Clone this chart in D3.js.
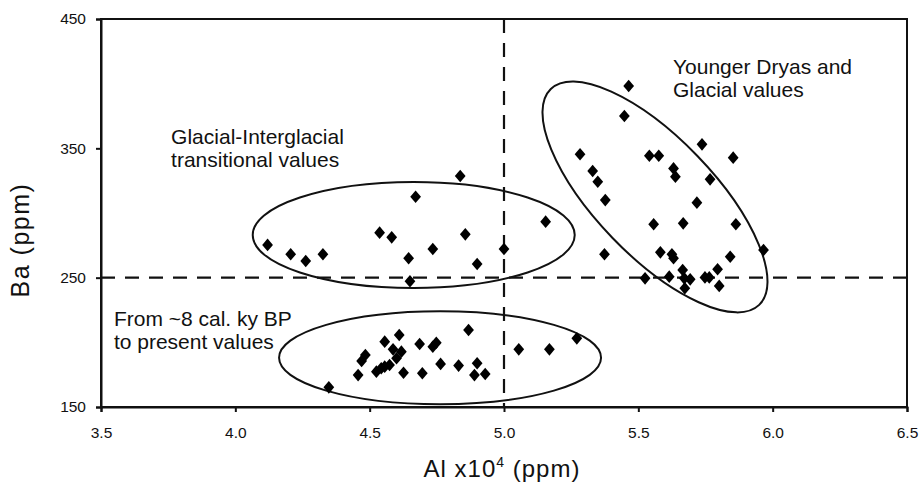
<!DOCTYPE html>
<html>
<head>
  <meta charset="utf-8">
  <script src="https://cdnjs.cloudflare.com/ajax/libs/d3/7.8.5/d3.min.js"></script>
  <title>Ba vs Al</title>
  <style>
    body { margin: 0; background: #fff; }
    svg text { font-family: "Liberation Sans", Arial, sans-serif; fill: #111; }
    .axis path, .axis line { stroke: #111; stroke-width: 2px; }
  </style>
</head>
<body>
<script>
// Al x10^4 (ppm) and Ba (ppm) values of each group
const transitionalAl = [4.12, 4.206, 4.262, 4.326, 4.537, 4.582, 4.671, 4.645, 4.65, 4.735, 4.837, 4.856, 4.90, 5.0, 5.155];
const transitionalBa = [275.3, 268.1, 262.9, 268.1, 284.8, 281.2, 312.6, 265.0, 247.2, 272.2, 328.6, 283.5, 260.6, 272.2, 293.3];

const presentAl = [4.348, 4.457, 4.47, 4.484, 4.525, 4.543, 4.556, 4.574, 4.556, 4.61, 4.587, 4.618, 4.6, 4.626,
                   4.686, 4.696, 4.735, 4.748, 4.764, 4.831, 4.868, 4.9, 4.89, 4.93, 5.055, 5.169, 5.271];
const presentBa = [165.2, 174.7, 185.6, 190.2, 177.3, 180.0, 181.2, 182.5, 200.5, 205.7, 194.6, 192.8, 187.7, 176.5,
                   198.7, 176.1, 196.6, 199.7, 183.3, 182.0, 209.5, 183.8, 174.7, 175.5, 194.6, 194.6, 203.1];

const glacialAl = [5.464, 5.448, 5.283, 5.541, 5.576, 5.737, 5.853, 5.33, 5.349, 5.631, 5.638, 5.767, 5.377, 5.718,
                   5.557, 5.667, 5.863, 5.966, 5.374, 5.582, 5.625, 5.631, 5.842, 5.525, 5.615, 5.665, 5.671,
                   5.693, 5.748, 5.764, 5.795, 5.673, 5.801];
const glacialBa = [398.2, 375.0, 345.4, 344.3, 344.3, 353.1, 342.8, 332.5, 324.2, 334.5, 328.1, 326.0, 310.0, 308.0,
                   291.3, 292.0, 291.3, 271.4, 268.1, 269.6, 268.1, 265.0, 266.2, 249.5, 250.8, 255.9, 249.5,
                   248.7, 250.2, 250.2, 256.5, 241.8, 243.6];

const xTicks = [3.5, 4.0, 4.5, 5.0, 5.5, 6.0, 6.5];
const yTicks = [150, 250, 350, 450];
const alThreshold = 5.0;
const baThreshold = 250;

// group labels: anchor in data units, lines
const labels = [
  { x: 3.761, y: 353.2, lines: ["Glacial-Interglacial", "transitional values"] },
  { x: 3.548, y: 212.7, lines: ["From ~8 cal. ky BP", "to present values"] },
  { x: 5.629, y: 407.3, lines: ["Younger Dryas and", "Glacial values"] }
];

// group ellipses: center in data units
const ellipses = [
  { cx: 4.664, cy: 283.0, rx: 161, ry: 53, angle: 0 },
  { cx: 4.762, cy: 188.1, rx: 161, ry: 46.5, angle: 0 },
  { cx: 5.562, cy: 312.4, rx: 150, ry: 59, angle: 46 }
];

const W = 921, H = 484;
const margin = { top: 19, right: 14, bottom: 77, left: 101 };
const width = W - margin.left - margin.right,
      height = H - margin.top - margin.bottom;

const svg = d3.select("body").append("svg")
    .attr("width", W)
    .attr("height", H);

const g = svg.append("g")
    .attr("transform", "translate(" + margin.left + "," + margin.top + ")");

const x = d3.scaleLinear().domain([3.5, 6.5]).range([0, width]);
const y = d3.scaleLinear().domain([150, 450]).range([height, 0]);

// frame
g.append("rect")
  .attr("width", width)
  .attr("height", height)
  .attr("fill", "none")
  .attr("stroke", "#111")
  .attr("stroke-width", 2);

const xAxis = g.append("g")
  .attr("class", "axis")
  .attr("transform", "translate(0," + height + ")")
  .call(d3.axisBottom(x).tickValues(xTicks).tickFormat(d3.format(".1f")).tickSizeOuter(0).tickSize(5).tickPadding(15));

const yAxis = g.append("g")
  .attr("class", "axis")
  .call(d3.axisLeft(y).tickValues(yTicks).tickSizeOuter(0).tickSize(5).tickPadding(10));

xAxis.selectAll("text").style("font-size", "15.5px");
yAxis.selectAll("text").style("font-size", "15.5px");

// threshold lines
g.append("line")
  .attr("x1", x(alThreshold)).attr("x2", x(alThreshold))
  .attr("y1", 0).attr("y2", height)
  .attr("stroke", "#111").attr("stroke-width", 2.2)
  .attr("stroke-dasharray", "14,10");

g.append("line")
  .attr("x1", 0).attr("x2", width)
  .attr("y1", y(baThreshold)).attr("y2", y(baThreshold))
  .attr("stroke", "#111").attr("stroke-width", 2.2)
  .attr("stroke-dasharray", "14,10");

// ellipses
g.selectAll(".group-ellipse")
  .data(ellipses)
  .enter().append("ellipse")
  .attr("class", "group-ellipse")
  .attr("transform", d => "translate(" + x(d.cx) + "," + y(d.cy) + ") rotate(" + d.angle + ")")
  .attr("rx", d => d.rx)
  .attr("ry", d => d.ry)
  .attr("fill", "none")
  .attr("stroke", "#111")
  .attr("stroke-width", 2);

// diamond markers, a bit wider than d3's own diamond
const diamond = {
  draw(ctx, size) {
    const hh = Math.sqrt(size / 1.7), hw = hh * 0.85;
    ctx.moveTo(0, -hh);
    ctx.lineTo(hw, 0);
    ctx.lineTo(0, hh);
    ctx.lineTo(-hw, 0);
    ctx.closePath();
  }
};
const symbol = d3.symbol().type(diamond).size(68);

const points = []
  .concat(transitionalAl.map((v, i) => [v, transitionalBa[i]]))
  .concat(presentAl.map((v, i) => [v, presentBa[i]]))
  .concat(glacialAl.map((v, i) => [v, glacialBa[i]]));

g.selectAll(".pt")
  .data(points)
  .enter().append("path")
  .attr("class", "pt")
  .attr("d", symbol)
  .attr("transform", d => "translate(" + x(d[0]) + "," + y(d[1]) + ")")
  .attr("fill", "#000");

// group labels
labels.forEach(function(l) {
  const t = g.append("text")
    .attr("x", x(l.x))
    .attr("y", y(l.y))
    .style("font-size", "21px");
  l.lines.forEach(function(line, i) {
    t.append("tspan")
      .attr("x", x(l.x))
      .attr("dy", i === 0 ? 0 : 23)
      .text(line);
  });
});

// axis titles
const xt = svg.append("text")
  .attr("x", margin.left + x(5.0) - 2)
  .attr("y", 477)
  .attr("text-anchor", "middle")
  .style("font-size", "24px")
  .style("letter-spacing", "1px");
xt.append("tspan").text("Al x10");
xt.append("tspan").attr("dy", -10).style("font-size", "14px").text("4");
xt.append("tspan").attr("dy", 10).text(" (ppm)");

svg.append("text")
  .attr("transform", "translate(29," + (margin.top + y(300) + 27) + ") rotate(-90)")
  .attr("text-anchor", "middle")
  .style("font-size", "25px")
  .style("letter-spacing", "1.5px")
  .text("Ba (ppm)");
</script>
</body>
</html>
